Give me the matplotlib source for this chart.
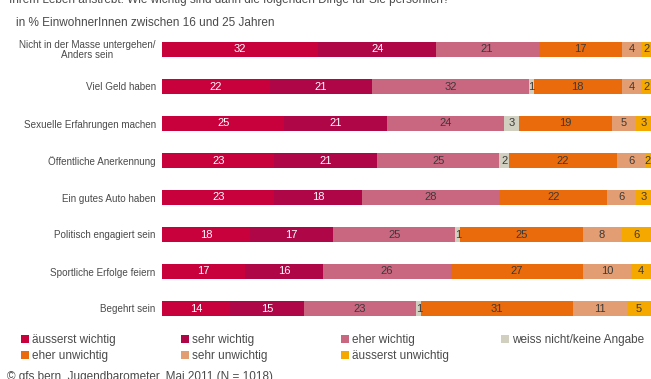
import matplotlib
matplotlib.use("Agg")
import matplotlib.pyplot as plt
from matplotlib.patches import Patch
import numpy as np

plt.rcParams['font.family'] = ['Liberation Sans', 'DejaVu Sans']

# Survey items (top to bottom)
items = [
    "Nicht in der Masse untergehen/\nAnders sein",
    "Viel Geld haben",
    "Sexuelle Erfahrungen machen",
    "Öffentliche Anerkennung",
    "Ein gutes Auto haben",
    "Politisch engagiert sein",
    "Sportliche Erfolge feiern",
    "Begehrt sein",
]

categories = [
    "äusserst wichtig",
    "sehr wichtig",
    "eher wichtig",
    "weiss nicht/keine Angabe",
    "eher unwichtig",
    "sehr unwichtig",
    "äusserst unwichtig",
]

# Percentages per category, one value per item
aeusserst_wichtig   = [32, 22, 25, 23, 23, 18, 17, 14]
sehr_wichtig        = [24, 21, 21, 21, 18, 17, 16, 15]
eher_wichtig        = [21, 32, 24, 25, 28, 25, 26, 23]
weiss_nicht         = [0, 1, 3, 2, 0, 1, 0, 1]
eher_unwichtig      = [17, 18, 19, 22, 22, 25, 27, 31]
sehr_unwichtig      = [4, 4, 5, 6, 6, 8, 10, 11]
aeusserst_unwichtig = [2, 2, 3, 2, 3, 6, 4, 5]

series = [aeusserst_wichtig, sehr_wichtig, eher_wichtig, weiss_nicht,
          eher_unwichtig, sehr_unwichtig, aeusserst_unwichtig]

colors = ["#C8003C", "#AE0647", "#C8677F", "#D0CFC0",
          "#E96B0C", "#E39D73", "#F5A800"]
label_colors = ["white", "white", "#3a3a3a", "#3a3a3a",
                "#3a3a3a", "#3a3a3a", "#3a3a3a"]

W, H = 651, 379
fig = plt.figure(figsize=(W / 100, H / 100), dpi=100)

# Bar area: rows centred from y=49.5 px to 308.5 px, 37 px apart
top_px, bot_px = 31.0, 327.0
ax = fig.add_axes([162 / W, 1 - bot_px / H, (651 - 162) / W, (bot_px - top_px) / H])

XMAX = 100
y = np.arange(len(items))
left = np.zeros(len(items))
for vals, col, tcol in zip(series, colors, label_colors):
    vals = np.array(vals, dtype=float)
    ax.barh(y, vals, left=left, height=0.405, color=col, edgecolor="none")
    for yi, (l, v) in enumerate(zip(left, vals)):
        if v > 0:
            # keep the number inside the visible part of the bar
            xc = min(l + v / 2, XMAX - 0.75)
            ax.text(xc, yi, f"{int(v)}", ha="center", va="center",
                    fontsize=8, color=tcol, clip_on=True)
    left += vals

ax.set_xlim(0, XMAX)
ax.set_ylim(len(items) - 0.5, -0.5)
ax.set_yticks(y)
ax.set_yticklabels(items, fontsize=7.1, color="#4a4a4a", linespacing=0.95)
for t in ax.get_yticklabels():
    t.set_multialignment("center")
ax.tick_params(axis="y", length=0, pad=4.5)
ax.set_xticks([])
for s in ax.spines.values():
    s.set_visible(False)

# Header lines
fig.text(9 / W, 1 - 2.5 / H,
         "Ihrem Leben anstrebt. Wie wichtig sind dann die folgenden Dinge für Sie persönlich?",
         ha="left", va="baseline", fontsize=8.5, color="#4a4a4a")
fig.text(16.5 / W, 1 - 23.5 / H, "in % EinwohnerInnen zwischen 16 und 25 Jahren",
         ha="left", va="center", fontsize=8.5, color="#4a4a4a")

# Legend: four columns, filled row by row
handles = [Patch(facecolor=c, edgecolor="none") for c in colors]
col_x = [21, 181, 341, 501]
for k, x in enumerate(col_x):
    idx = [i for i in (k, k + 4) if i < len(categories)]
    fig.legend([handles[i] for i in idx], [categories[i] for i in idx],
               loc="upper left", bbox_to_anchor=(x / W, 1 - 334.5 / H),
               frameon=False, borderpad=0, borderaxespad=0,
               handlelength=0.68, handleheight=0.68, handletextpad=0.25,
               labelspacing=0.3, fontsize=8.5, labelcolor="#4a4a4a")

fig.text(7 / W, 1 - 380.5 / H, "© gfs.bern, Jugendbarometer, Mai 2011 (N = 1018)",
         ha="left", va="baseline", fontsize=8.5, color="#4a4a4a")

fig.savefig("out.png", dpi=100)
